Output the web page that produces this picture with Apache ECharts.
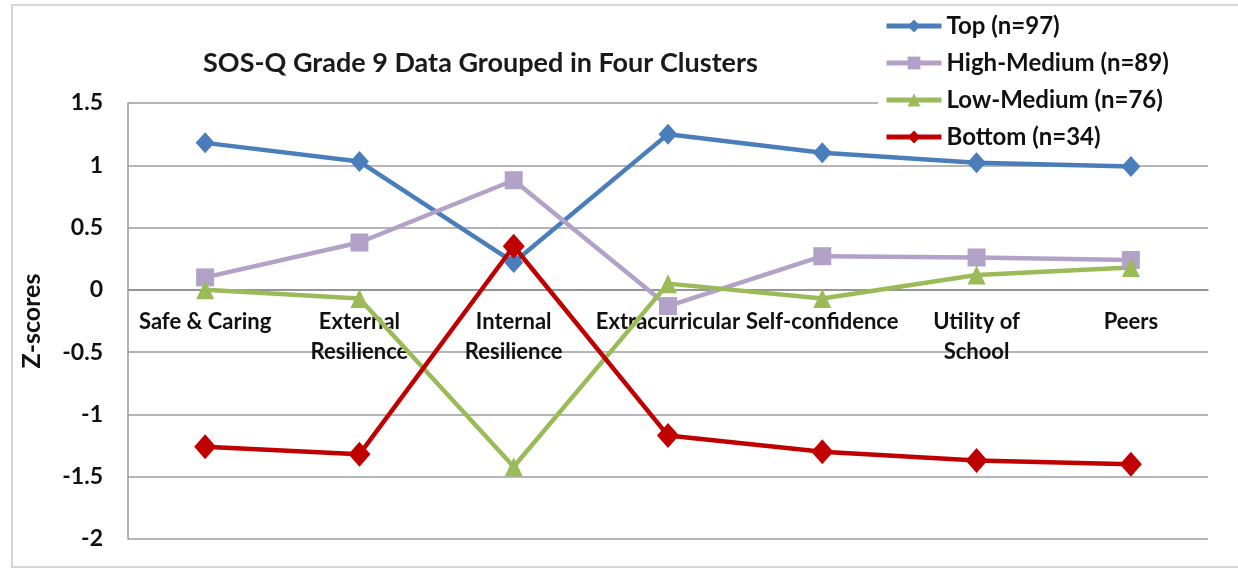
<!DOCTYPE html>
<html>
<head>
<meta charset="utf-8">
<script src="https://cdn.jsdelivr.net/npm/echarts@6/dist/echarts.min.js"></script>
<style>
html,body{margin:0;padding:0;background:#fff;}
#chart{width:1238px;height:569px;}
</style>
</head>
<body>
<div id="chart"></div>
<script>
var categories = ['Safe & Caring', 'External\nResilience', 'Internal\nResilience', 'Extracurricular', 'Self-confidence', 'Utility of\nSchool', 'Peers'];
var seriesNames = ['Top (n=97)', 'High-Medium (n=89)', 'Low-Medium (n=76)', 'Bottom (n=34)'];
var topValues = [1.18, 1.03, 0.22, 1.25, 1.10, 1.02, 0.99];
var highMediumValues = [0.10, 0.38, 0.88, -0.13, 0.27, 0.26, 0.24];
var lowMediumValues = [0.00, -0.07, -1.42, 0.05, -0.07, 0.12, 0.18];
var bottomValues = [-1.26, -1.32, 0.35, -1.17, -1.30, -1.37, -1.40];
var yTicks = {min: -2, max: 1.5, interval: 0.5};

var FONT = 'Lato';
var chart = echarts.init(document.getElementById('chart'), null, {renderer: 'canvas'});

function mkSeries(name, data, color, symbol, size) {
  return {
    name: name, type: 'line', data: data,
    symbol: symbol, symbolSize: size, showSymbol: true,
    lineStyle: {color: color, width: 4.5},
    itemStyle: {color: color},
    emphasis: {disabled: true},
    animation: false, z: 3
  };
}

chart.setOption({
  backgroundColor: '#ffffff',
  animation: false,
  graphic: [{
    type: 'rect', silent: true, z: -10,
    shape: {x: 12, y: 5, width: 1260, height: 562},
    style: {fill: 'none', stroke: '#d6d6d6', lineWidth: 2}
  }],
  title: {
    text: 'SOS-Q Grade 9 Data Grouped in Four Clusters',
    left: 198, top: 45,
    textStyle: {fontFamily: FONT, fontWeight: 'bold', fontSize: 27, color: '#1a1a1a'}
  },
  legend: {
    orient: 'vertical', left: 878, top: 9,
    itemWidth: 55, itemHeight: 16, itemGap: 11,
    backgroundColor: '#ffffff',
    padding: [4, 42, 2, 6],
    lineStyle: {width: 5},
    textStyle: {fontFamily: FONT, fontWeight: 'bold', fontSize: 24, color: '#111', lineHeight: 26},
    data: seriesNames,
    z: 10
  },
  grid: {left: 128, right: 30, top: 103, bottom: 30, containLabel: false, outerBoundsMode: 'none'},
  xAxis: {
    type: 'category', data: categories, boundaryGap: true,
    position: 'bottom', offset: -249,
    axisLine: {show: true, onZero: false, lineStyle: {color: '#8a8a8a', width: 1.5}},
    axisTick: {show: false},
    axisLabel: {interval: 0, margin: 17, fontFamily: FONT, fontWeight: 'bold', fontSize: 22, color: '#111', lineHeight: 30},
    splitLine: {show: false}
  },
  yAxis: {
    type: 'value', min: yTicks.min, max: yTicks.max, interval: yTicks.interval,
    name: 'Z-scores', nameLocation: 'middle', nameGap: 84, nameRotate: 90,
    nameTextStyle: {fontFamily: FONT, fontWeight: 'bold', fontSize: 25, color: '#111'},
    axisLine: {show: true, lineStyle: {color: '#9a9a9a', width: 1.5}},
    axisTick: {show: false},
    axisLabel: {margin: 25, fontFamily: FONT, fontWeight: 'bold', fontSize: 23, color: '#111'},
    splitLine: {show: true, lineStyle: {color: '#9c9c9c', width: 1.5}}
  },
  series: [
    mkSeries(seriesNames[0], topValues, '#4a7ebb', 'diamond', [19, 21]),
    mkSeries(seriesNames[1], highMediumValues, '#b3a2c7', 'rect', [18, 18]),
    mkSeries(seriesNames[2], lowMediumValues, '#9bbb59', 'triangle', [18, 19]),
    mkSeries(seriesNames[3], bottomValues, '#c00000', 'diamond', [22, 25])
  ]
});
</script>
</body>
</html>
